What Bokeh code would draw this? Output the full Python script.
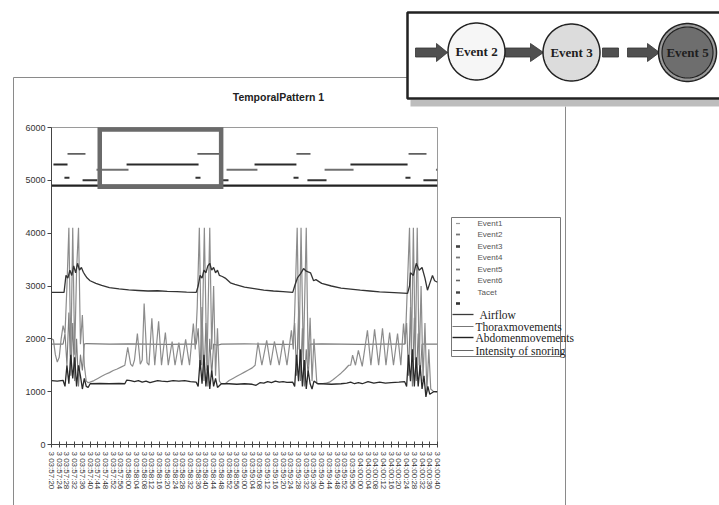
import math
from bokeh.plotting import figure
from bokeh.models import Range1d, FixedTicker, NumeralTickFormatter
from bokeh.embed import file_html
from bokeh.resources import INLINE
from bokeh.core.properties import value

# ---------------- data ----------------
TICK_SECONDS = list(range(0, 201, 4))
TICK_LABELS = [
    "3 03:57:20", "3 03:57:24", "3 03:57:28", "3 03:57:32", "3 03:57:36", "3 03:57:40", "3 03:57:44", "3 03:57:48", "3 03:57:52", "3 03:57:56",
    "3 03:58:00", "3 03:58:04", "3 03:58:08", "3 03:58:12", "3 03:58:16", "3 03:58:20", "3 03:58:24", "3 03:58:28", "3 03:58:32", "3 03:58:36",
    "3 03:58:40", "3 03:58:44", "3 03:58:48", "3 03:58:52", "3 03:58:56",
    "3 03:59:00", "3 03:59:04", "3 03:59:08", "3 03:59:12", "3 03:59:16", "3 03:59:20", "3 03:59:24", "3 03:59:28", "3 03:59:32", "3 03:59:36",
    "3 03:59:40", "3 03:59:44", "3 03:59:48", "3 03:59:52", "3 03:59:56",
    "3 04:00:00", "3 04:00:04", "3 04:00:08", "3 04:00:12", "3 04:00:16", "3 04:00:20", "3 04:00:24", "3 04:00:28", "3 04:00:32", "3 04:00:36", "3 04:00:40"]
Y_TICKS = [0, 1000, 2000, 3000, 4000, 5000, 6000]

TITLE = "TemporalPattern 1"
EVENT_NAMES = ["Event1", "Event2", "Event3", "Event4", "Event5", "Event6", "Tacet", ""]
SERIES_NAMES = ["Airflow", "Thoraxmovements", "Abdomenmovements", "Intensity of snoring"]
FLOW_NAMES = ["Event 2", "Event 3", "Event 5"]

# event occurrences (seconds after 03:57:20) and their plotting level
EVENT1_LEVEL = 5000
EVENT1_START = [16.1, 87.0, 132.6, 192.7]
EVENT1_END = [23.8, 91.7, 142.5, 200.0]
EVENT2_LEVEL = 5200
EVENT2_START = [23.3, 90.7, 141.5, 199.2]
EVENT2_END = [39.9, 106.7, 156.5, 200.0]
EVENT3_LEVEL = 5300
EVENT3_START = [1.0, 38.9, 105.2, 154.9]
EVENT3_END = [8.3, 76.2, 126.9, 184.5]
EVENT4_LEVEL = 5050
EVENT4_START = [6.7, 74.6, 125.4, 183.4]
EVENT4_END = [9.3, 77.2, 128.0, 186.0]
EVENT5_LEVEL = 5500
EVENT5_START = [8.3, 75.6, 126.9, 185.0]
EVENT5_END = [17.6, 87.0, 134.2, 194.3]
TACET_LEVEL = 4900
TACET_START = [0.0]
TACET_END = [200.0]

# highlighted pattern occurrence
HIGHLIGHT_START = 25.0
HIGHLIGHT_END = 87.9
HIGHLIGHT_LOW = 4880
HIGHLIGHT_HIGH = 5960

# Airflow
AIR_T = [0, 6.5, 7.5, 8.5, 9.5, 10.5, 11.5, 12.5, 13.5, 14.5,
         15.5, 16.5, 17.5, 18.5, 20, 23, 26, 30, 35, 40,
         45, 50, 55, 60, 65, 70, 75, 76, 77, 78,
         79, 80, 81, 82, 83, 84, 85, 86, 87, 88.5,
         90, 92.7, 95, 100, 105, 110, 115, 120, 125, 126,
         127.5, 129, 130.6, 132, 134.2, 135.8, 137, 140, 145, 150,
         155, 160, 165, 170, 175, 180, 184.5, 185.5, 186, 187.5,
         189, 190.5, 192, 193.5, 194.8, 196, 197.4, 198.5, 200]
AIR_V = [2880, 2880, 3200, 3150, 3300, 3200, 3380, 3250, 3430, 3300,
         3350, 3260, 3200, 3150, 3100, 3050, 3010, 2970, 2945, 2925,
         2915, 2905, 2910, 2900, 2895, 2885, 2880, 3000, 3200, 3150,
         3300, 3250, 3380, 3430, 3300, 3350, 3250, 3300, 3200, 3180,
         3150, 3060, 3030, 2980, 2950, 2920, 2905, 2895, 2880, 3000,
         3160, 3230, 3330, 3280, 3250, 3100, 3120, 3050, 3000, 2960,
         2940, 2920, 2905, 2890, 2880, 2870, 2860, 3000, 3250, 3200,
         3430, 3300, 3350, 3150, 2920, 3050, 3200, 3100, 3070]

# Thoraxmovements
THO_T = [0, 1, 2, 3, 4, 5, 6, 7, 8, 9,
         10, 11, 12, 13, 14, 15, 16, 17, 18, 19,
         20, 22, 24, 26, 28, 30, 32, 34, 36, 38,
         39.5, 41, 42, 43, 44.5, 46, 47, 48, 49.5, 50.5,
         52, 53.5, 55.5, 57, 59, 60.5, 62.5, 64, 66, 67.5,
         69.5, 71.5, 73.5, 74.5, 75.5, 76.6, 77.8, 79.2, 80.5, 82,
         83, 84, 85, 86, 87, 88, 90, 92, 94, 96,
         98, 100, 102, 104, 105.5, 107, 109, 111.5, 113.5, 115.5,
         118, 120, 122, 124.3, 125.3, 126, 127.3, 128.3, 129.3, 130.5,
         132, 133, 134, 135, 136, 137.5, 139, 140, 142, 144,
         146, 148, 150, 152, 154, 155, 156, 157.5, 159, 161,
         163.7, 165.5, 167.4, 169.5, 171.5, 173.3, 175.2, 177.2, 179.3, 181,
         182.4, 183.3, 184, 185.5, 186.5, 187.5, 188.5, 189.5, 190.5, 191.5,
         192.5, 193.5, 194.5, 195.5, 196.5, 198, 200]
THO_V = [2000, 1980, 1700, 1560, 1650, 2000, 2250, 2100, 3000, 4100,
         1600, 4100, 1700, 3300, 4100, 1900, 2450, 1500, 1200, 1170,
         1180, 1210, 1250, 1290, 1330, 1360, 1400, 1430, 1465, 1500,
         1840, 1520, 1480, 1600, 2100, 1520, 1600, 2670, 1550, 1500,
         2390, 1500, 2330, 1500, 2120, 1500, 1950, 1500, 1930, 1500,
         1990, 1500, 2290, 1800, 2600, 4100, 1500, 4100, 1400, 4100,
         1800, 3000, 1300, 2200, 1200, 1150, 1150, 1210, 1250, 1290,
         1330, 1370, 1410, 1450, 1500, 1930, 1500, 1970, 1500, 1950,
         1500, 1970, 1500, 2160, 1800, 2500, 4100, 1800, 4100, 1600,
         4100, 1500, 2400, 1200, 2000, 1150, 1150, 1150, 1160, 1180,
         1230, 1290, 1350, 1420, 1500, 1500, 1690, 1500, 1780, 1480,
         2160, 1500, 2180, 1500, 2200, 1500, 2120, 1500, 2100, 1500,
         2290, 1900, 2600, 4100, 1700, 4100, 1600, 4100, 1500, 3000,
         1200, 2300, 1000, 1800, 1050, 1000, 990]

# Abdomenmovements
ABD_T = [0, 3, 6, 7, 8, 9, 10, 11, 12, 13,
         14, 15, 16, 17, 18, 19, 20, 25, 30, 35,
         38, 39, 41, 43, 45, 47, 49, 51, 53, 55,
         57, 60, 63, 66, 69, 72, 75, 76, 77, 78,
         79, 80, 81, 82, 83, 84, 85, 86, 88, 92,
         96, 100, 104, 106, 108, 110, 112, 114, 116, 118,
         120, 122, 125, 126, 127, 128, 129, 130, 131, 132,
         133, 134, 135, 136, 138, 140, 145, 150, 153, 155,
         157, 159, 161, 164, 167, 170, 173, 176, 180, 183,
         184, 185, 186, 187, 188, 189, 190, 191, 192, 193,
         194, 195, 196, 198, 200]
ABD_V = [1210, 1200, 1215, 1100, 1500, 1150, 1700, 1250, 1650, 1100,
         1500, 1300, 1050, 1250, 1100, 1080, 1150, 1155, 1150, 1155,
         1150, 1220, 1210, 1190, 1210, 1180, 1200, 1170, 1190, 1210,
         1200, 1190, 1210, 1200, 1210, 1190, 1180, 1100, 1600, 1150,
         1700, 1100, 1500, 1050, 1400, 1100, 1250, 1080, 1150, 1150,
         1140, 1150, 1140, 1120, 1170, 1160, 1190, 1170, 1200, 1180,
         1190, 1175, 1180, 1100, 1700, 1200, 1800, 1100, 1600, 1050,
         1400, 1150, 1050, 1200, 1150, 1150, 1140, 1150, 1160, 1180,
         1150, 1170, 1150, 1190, 1160, 1180, 1160, 1170, 1180, 1190,
         1100, 1700, 1200, 1800, 1100, 1650, 1100, 1500, 1050, 1300,
         900, 1100, 950, 1000, 1000]

# Intensity of snoring
SNO_T = [0, 6, 7, 8, 9, 10, 11, 12, 13, 14,
         15, 16, 17, 18, 30, 40, 50, 60, 70, 75,
         76, 77, 78, 79, 80, 81, 82, 83, 84, 86,
         88, 100, 110, 120, 125, 126, 127, 128, 129, 130,
         131, 132, 133, 134, 140, 150, 160, 170, 183, 184,
         185, 186, 187, 188, 189, 190, 191, 192, 200]
SNO_V = [1900, 1900, 2100, 1500, 2500, 1300, 2300, 1200, 2000, 1100,
         1700, 1400, 1900, 1910, 1900, 1905, 1900, 1895, 1900, 1900,
         2200, 1400, 2600, 1200, 2300, 1100, 2000, 1300, 1900, 1880,
         1900, 1905, 1900, 1895, 1900, 2300, 1300, 2500, 1200, 2200,
         1100, 1800, 1300, 1900, 1905, 1900, 1895, 1900, 1900, 2300,
         1300, 2600, 1100, 2400, 1200, 2100, 1300, 1900, 1900]

for a, b in [(AIR_T, AIR_V), (THO_T, THO_V), (ABD_T, ABD_V), (SNO_T, SNO_V)]:
    assert len(a) == len(b), (len(a), len(b))

# ---------------- figure ----------------
SANS = "Liberation Sans"
SERIF = "Liberation Serif"

p = figure(width=719, height=505, output_backend="svg", toolbar_location=None,
           x_range=Range1d(0, 200), y_range=Range1d(0, 6000),
           min_border_left=51, min_border_right=282, min_border_top=127, min_border_bottom=61)
p.background_fill_color = "white"
p.border_fill_color = "white"
p.outline_line_color = "#9a9a9a"
p.outline_line_width = 1
p.grid.visible = False

# page-pixel coordinate system for the surrounding decorations
p.extra_x_ranges = {"px": Range1d(51, 437)}
p.extra_y_ranges = {"py": Range1d(444, 127)}
PX = dict(x_range_name="px", y_range_name="py", level="overlay")

# axes
xa = p.xaxis[0]
xa.ticker = FixedTicker(ticks=TICK_SECONDS)
xa.major_label_overrides = {t: lab for t, lab in zip(TICK_SECONDS, TICK_LABELS)}
xa.major_label_orientation = "vertical"
xa.major_label_text_font = SANS
xa.major_label_text_font_size = "8px"
xa.major_label_text_color = "#333333"
xa.major_label_standoff = 4
xa.major_tick_in = 3
xa.major_tick_out = 3
xa.minor_tick_line_color = None
xa.axis_line_color = "#444444"
xa.major_tick_line_color = "#444444"

ya = p.yaxis[0]
ya.ticker = FixedTicker(ticks=Y_TICKS)
ya.formatter = NumeralTickFormatter(format="0")
ya.major_label_text_font = SANS
ya.major_label_text_font_size = "9px"
ya.major_label_text_color = "#333333"
ya.major_label_standoff = 2
ya.major_tick_in = 0
ya.major_tick_out = 4
ya.minor_tick_line_color = None
ya.axis_line_color = "#444444"
ya.major_tick_line_color = "#444444"

# signals
p.line(SNO_T, SNO_V, line_color="#7c7c7c", line_width=1.1)
p.line(THO_T, THO_V, line_color="#8c8c8c", line_width=1.2)
p.line(AIR_T, AIR_V, line_color="#333333", line_width=1.3)
p.line(ABD_T, ABD_V, line_color="#2a2a2a", line_width=1.3)

# events
events = [
    (TACET_START, TACET_END, TACET_LEVEL, "#222222", 2.2),
    (EVENT1_START, EVENT1_END, EVENT1_LEVEL, "#333333", 2.0),
    (EVENT2_START, EVENT2_END, EVENT2_LEVEL, "#707070", 1.8),
    (EVENT3_START, EVENT3_END, EVENT3_LEVEL, "#2a2a2a", 2.0),
    (EVENT4_START, EVENT4_END, EVENT4_LEVEL, "#333333", 2.0),
    (EVENT5_START, EVENT5_END, EVENT5_LEVEL, "#606060", 1.8),
]
for s, e, lev, col, w in events:
    p.segment(x0=s, y0=[lev] * len(s), x1=e, y1=[lev] * len(s), line_color=col, line_width=w)

# highlight box
p.quad(left=[HIGHLIGHT_START], right=[HIGHLIGHT_END], bottom=[HIGHLIGHT_LOW], top=[HIGHLIGHT_HIGH],
       fill_color=None, line_color="#6a6a6a", line_width=4.5, line_join="miter", level="overlay")

# title
p.text(x=[278], y=[96], text=[TITLE], text_font=value(SANS), text_font_style="bold",
       text_font_size="10.5px", text_color="#222222", text_align="center", text_baseline="middle", **PX)

# outer chart frame
p.segment(x0=[13, 13, 565], y0=[77, 77, 106], x1=[407, 13, 565], y1=[77, 510, 510],
          line_color="#8a8a8a", line_width=1, **PX)

# legend
p.quad(left=[451], right=[560], top=[217], bottom=[356], fill_color="white", line_color="#777777",
       line_width=1, **PX)
ev_rows = [223, 234, 246, 257, 269, 280, 292, 303]
ev_mark_col = ["#9a9a9a", "#777777", "#444444", "#777777", "#777777", "#666666", "#444444", "#333333"]
ev_mark_w = [1.2, 1.8, 2.6, 1.8, 1.8, 1.6, 2.4, 2.6]
for yy, c, w in zip(ev_rows, ev_mark_col, ev_mark_w):
    p.segment(x0=[455.5], y0=[yy], x1=[459.5], y1=[yy], line_color=c, line_width=w, **PX)
p.text(x=[477] * len(ev_rows), y=ev_rows, text=EVENT_NAMES, text_font=value(SANS), text_font_size="8px",
       text_color="#555555", text_baseline="middle", **PX)
ln_rows = [314, 326, 337, 350]
ln_col = ["#3a3a3a", "#777777", "#222222", "#666666"]
ln_w = [1.3, 1.0, 1.4, 1.0]
for yy, c, w in zip(ln_rows, ln_col, ln_w):
    p.segment(x0=[452], y0=[yy], x1=[473], y1=[yy], line_color=c, line_width=w, **PX)
p.text(x=[479, 475, 475, 475], y=ln_rows, text=SERIES_NAMES, text_font=value(SERIF), text_font_size="11.5px",
       text_color="#222222", text_baseline="middle", **PX)


# pattern diagram (top right)
def disc(cx, cy, r):
    n = 90
    return ([cx + r * math.cos(2 * math.pi * k / n) for k in range(n)],
            [cy + r * math.sin(2 * math.pi * k / n) for k in range(n)])


p.quad(left=[410], right=[730], top=[99], bottom=[106], fill_color="#bdbdbd", line_color=None, **PX)
p.quad(left=[407], right=[730], top=[12], bottom=[98], fill_color="white", line_color="#222222",
       line_width=2.5, **PX)
arrows = [(415, 436, 447), (505, 530, 543), (627, 647, 659)]
for x0, xh, tip in arrows:
    p.patch(x=[x0, xh, xh, tip, xh, xh, x0], y=[47.5, 47.5, 43, 52, 61, 56.5, 56.5],
            fill_color="#505050", line_color="#333333", line_width=0.8, **PX)
p.quad(left=[602], right=[618], top=[47.5], bottom=[56.5], fill_color="#505050", line_color="#333333",
       line_width=0.8, **PX)
for (cx, cy, r, fc, lw) in [(476, 51, 28.5, "#f6f6f6", 1.5), (571, 52, 28.5, "#dcdcdc", 1.5),
                            (687, 52, 29, "#9a9a9a", 1.5), (687, 52, 25.5, "#6e6e6e", 1.2)]:
    xs, ys = disc(cx, cy, r)
    p.patch(x=xs, y=ys, fill_color=fc, line_color="#222222", line_width=lw, **PX)
p.text(x=[476, 571, 687], y=[51, 52, 52], text=FLOW_NAMES, text_font=value(SERIF), text_font_style="bold",
       text_font_size="13px", text_color="#1e1e1e", text_align="center", text_baseline="middle", **PX)

open("out.html", "w").write(file_html(p, INLINE))
